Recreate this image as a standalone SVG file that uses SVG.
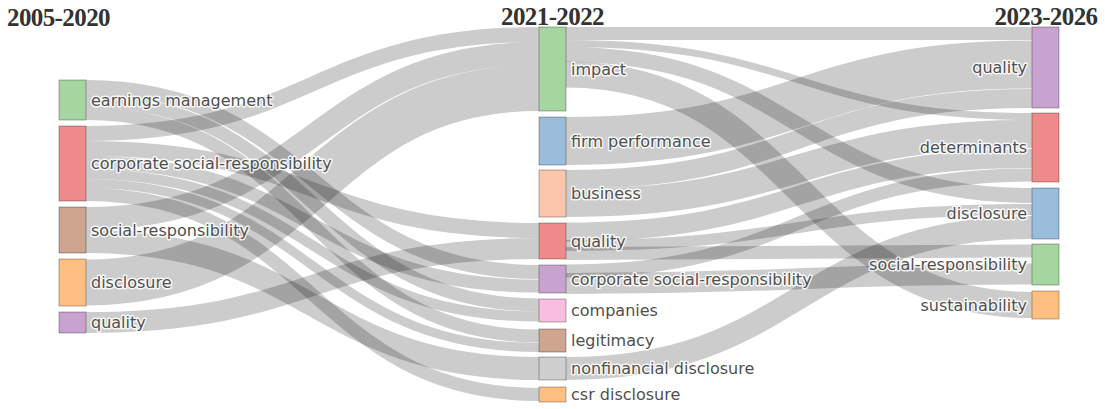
<svg xmlns="http://www.w3.org/2000/svg" width="1105" height="409" viewBox="0 0 1105 409">
<style>
.lk{fill:none;stroke:#000;stroke-opacity:0.2;stroke-linecap:butt}
.nd{stroke:#000;stroke-opacity:0.3;stroke-width:1}
.lb{font-family:"DejaVu Sans","Liberation Sans",sans-serif;font-size:16px;fill:#505050;stroke:#fff;stroke-width:3;stroke-opacity:0.85;stroke-linejoin:round;paint-order:stroke}
.r{text-anchor:end}
.tt{font-family:"Liberation Serif","DejaVu Serif",serif;font-size:25px;font-weight:bold;fill:#333;letter-spacing:-0.6px}
.green{fill:#a6d6a0}.red{fill:#f08a8a}.brown{fill:#cea58f}.orange{fill:#ffbf80}.purple{fill:#c9a3d0}.blue{fill:#9bbddc}.peach{fill:#fcc6ad}.pink{fill:#f9bddf}.gray{fill:#cfcfcf}
</style>
<rect width="1105" height="409" fill="#fff"/>
<g id="titles">
<text class="tt" x="7" y="26">2005-2020</text>
<text class="tt" x="552.5" y="25" text-anchor="middle">2021-2022</text>
<text class="tt" x="1046" y="25" text-anchor="middle">2023-2026</text>
</g>
<g id="links">
<path class="lk" stroke-width="14" d="M86,87 C312.5,87 312.5,272 539,272"/>
<path class="lk" stroke-width="13" d="M86,100.5 C312.5,100.5 312.5,305 539,305"/>
<path class="lk" stroke-width="13" d="M86,113.5 C312.5,113.5 312.5,336 539,336"/>
<path class="lk" stroke-width="15" d="M86,133.5 C312.5,133.5 312.5,34.5 539,34.5"/>
<path class="lk" stroke-width="15" d="M86,148.5 C312.5,148.5 312.5,230.5 539,230.5"/>
<path class="lk" stroke-width="13" d="M86,162.5 C312.5,162.5 312.5,286 539,286"/>
<path class="lk" stroke-width="10" d="M86,174 C312.5,174 312.5,316.5 539,316.5"/>
<path class="lk" stroke-width="9" d="M86,183.5 C312.5,183.5 312.5,347.5 539,347.5"/>
<path class="lk" stroke-width="13" d="M86,194.5 C312.5,194.5 312.5,394.5 539,394.5"/>
<path class="lk" stroke-width="23" d="M86,218.5 C312.5,218.5 312.5,53.5 539,53.5"/>
<path class="lk" stroke-width="23" d="M86,241.5 C312.5,241.5 312.5,368.5 539,368.5"/>
<path class="lk" stroke-width="46" d="M86,282.5 C312.5,282.5 312.5,88 539,88"/>
<path class="lk" stroke-width="21" d="M86,322.5 C312.5,322.5 312.5,248.5 539,248.5"/>
<path class="lk" stroke-width="13" d="M566,33.5 C799,33.5 799,33.5 1032,33.5"/>
<path class="lk" stroke-width="7" d="M566,43.5 C799,43.5 799,116.5 1032,116.5"/>
<path class="lk" stroke-width="15" d="M566,54.5 C799,54.5 799,195.5 1032,195.5"/>
<path class="lk" stroke-width="26" d="M566,74.5 C799,74.5 799,305 1032,305"/>
<path class="lk" stroke-width="48" d="M566,141 C799,141 799,64.5 1032,64.5"/>
<path class="lk" stroke-width="19" d="M566,179.5 C799,179.5 799,98.5 1032,98.5"/>
<path class="lk" stroke-width="28" d="M566,203 C799,203 799,134 1032,134"/>
<path class="lk" stroke-width="19" d="M566,232 C799,232 799,158.5 1032,158.5"/>
<path class="lk" stroke-width="11" d="M566,245.5 C799,245.5 799,209.5 1032,209.5"/>
<path class="lk" stroke-width="13" d="M566,253.5 C799,253.5 799,251 1032,251"/>
<path class="lk" stroke-width="13" d="M566,271 C799,271 799,175 1032,175"/>
<path class="lk" stroke-width="21" d="M566,283.5 C799,283.5 799,274 1032,274"/>
<path class="lk" stroke-width="23" d="M566,368.5 C799,368.5 799,227.5 1032,227.5"/>
</g>
<g id="node-l-earnings"><rect class="nd green" x="59" y="80" width="27" height="40"/><text class="lb" x="91" y="105.5">earnings management</text></g>
<g id="node-l-csr"><rect class="nd red" x="59" y="126" width="27" height="75"/><text class="lb" x="91" y="169">corporate social-responsibility</text></g>
<g id="node-l-sr"><rect class="nd brown" x="59" y="207" width="27" height="46"/><text class="lb" x="91" y="235.5">social-responsibility</text></g>
<g id="node-l-disclosure"><rect class="nd orange" x="59" y="259" width="27" height="47"/><text class="lb" x="91" y="288">disclosure</text></g>
<g id="node-l-quality"><rect class="nd purple" x="59" y="312" width="27" height="21"/><text class="lb" x="91" y="328">quality</text></g>
<g id="node-m-impact"><rect class="nd green" x="539" y="27" width="27" height="84"/><text class="lb" x="571" y="74.5">impact</text></g>
<g id="node-m-firm"><rect class="nd blue" x="539" y="117" width="27" height="48"/><text class="lb" x="571" y="146.5">firm performance</text></g>
<g id="node-m-business"><rect class="nd peach" x="539" y="170" width="27" height="47"/><text class="lb" x="571" y="199">business</text></g>
<g id="node-m-quality"><rect class="nd red" x="539" y="223" width="27" height="36"/><text class="lb" x="571" y="246.5">quality</text></g>
<g id="node-m-csr"><rect class="nd purple" x="539" y="265" width="27" height="28"/><text class="lb" x="571" y="284.5">corporate social-responsibility</text></g>
<g id="node-m-companies"><rect class="nd pink" x="539" y="299" width="27" height="23"/><text class="lb" x="571" y="316">companies</text></g>
<g id="node-m-legitimacy"><rect class="nd brown" x="539" y="329" width="27" height="23"/><text class="lb" x="571" y="346">legitimacy</text></g>
<g id="node-m-nonfin"><rect class="nd gray" x="539" y="357" width="27" height="23"/><text class="lb" x="571" y="374">nonfinancial disclosure</text></g>
<g id="node-m-csrdisc"><rect class="nd orange" x="539" y="387" width="27" height="15"/><text class="lb" x="571" y="400">csr disclosure</text></g>
<g id="node-r-quality"><rect class="nd purple" x="1032" y="27" width="27" height="81"/><text class="lb r" x="1027" y="73">quality</text></g>
<g id="node-r-determinants"><rect class="nd red" x="1032" y="113" width="27" height="69"/><text class="lb r" x="1027" y="153">determinants</text></g>
<g id="node-r-disclosure"><rect class="nd blue" x="1032" y="188" width="27" height="51"/><text class="lb r" x="1027" y="219">disclosure</text></g>
<g id="node-r-sr"><rect class="nd green" x="1032" y="244" width="27" height="41"/><text class="lb r" x="1027" y="270">social-responsibility</text></g>
<g id="node-r-sustainability"><rect class="nd orange" x="1032" y="291" width="27" height="28"/><text class="lb r" x="1027" y="310.5">sustainability</text></g>
</svg>
